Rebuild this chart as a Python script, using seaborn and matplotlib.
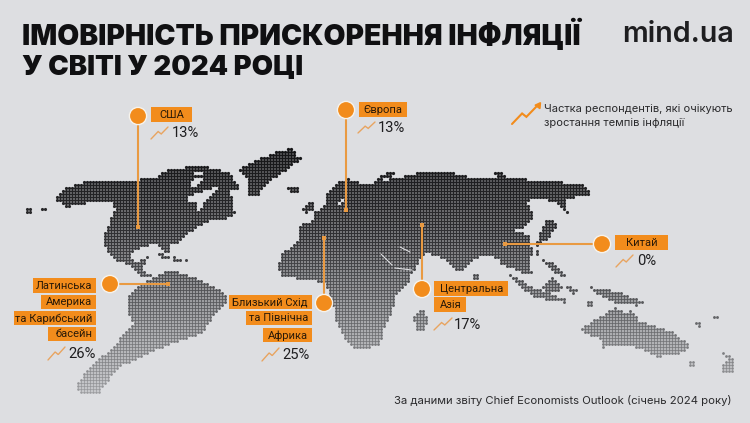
import numpy as np
import pandas as pd
import seaborn as sns
import matplotlib
matplotlib.use("Agg")
import matplotlib.pyplot as plt
from matplotlib.colors import LinearSegmentedColormap
from matplotlib.patches import Rectangle, Circle
from matplotlib.path import Path

# ---- chart content ----
title_lines = ["ІМОВІРНІСТЬ ПРИСКОРЕННЯ ІНФЛЯЦІЇ", "У СВІТІ У 2024 РОЦІ"]
brand = "mind.ua"
legend_lines = ["Частка респондентів, які очікують", "зростання темпів інфляції"]
source = "За даними звіту Chief Economists Outlook (січень 2024 року)"
regions = ["США", "Європа", "Китай", "Центральна Азія", "Близький Схід та Північна Африка",
           "Латинська Америка та Карибський басейн"]
values = [13, 13, 0, 17, 25, 26]

# ---- map outlines ----
north_america = [(55,199),(65,190),(67,187),(93,180),(123,182),(157,177),(167,170),(187,167),(200,165),(227,172),
    (233,178),(239,188),(230,192),(233,203),(235,213),(230,218),(207,222),(197,227),(177,243),(172,243),(168,253),
    (163,250),(155,243),(135,250),(130,258),(138,262),(148,257),(145,263),(143,270),(153,277),(143,277),(128,265),
    (115,260),(105,247),(103,237),(115,210),(112,202),(87,203),(67,207)]
greenland = [(238,170),(253,162),(277,152),(293,148),(297,158),(303,158),(283,173),(267,183),(257,197),(248,195),(248,180)]
south_america = [(143,283),(155,277),(167,270),(183,273),(200,280),(228,295),(227,303),(213,317),(203,333),(173,343),
    (150,353),(120,367),(107,383),(100,393),(80,395),(76,387),(87,370),(113,347),(133,323),(127,310),(130,293),(137,288)]
eurasia_africa = [(277,267),(283,253),(298,242),(300,225),(315,220),(313,212),(318,212),(328,203),(325,197),(337,183),
    (347,179),(370,185),(378,181),(398,178),(418,173),(448,172),(472,178),(498,178),(508,178),(558,182),(582,185),
    (595,194),(582,195),(565,200),(568,213),(555,203),(542,198),(525,202),(533,212),(532,220),(525,228),(513,230),
    (522,232),(532,237),(530,243),(533,252),(530,262),(532,275),(522,273),(510,268),(502,265),(497,258),(482,255),
    (472,262),(468,267),(458,273),(443,258),(425,253),(421,258),(416,268),(412,273),(408,285),(396,295),(393,310),
    (385,327),(380,345),(367,349),(350,347),(335,320),(333,303),(325,283),(310,280),(282,277)]
islands = [
    [(25,209),(33,209),(33,213),(25,213)], [(40,209),(48,206),(48,210),(40,213)],
    [(287,188),(298,188),(298,193),(290,194)], [(302,208),(308,203),(315,202),(314,212),(304,213)],
    [(378,180),(382,175),(395,171),(396,175),(385,178),(381,184)], [(493,172),(503,173),(508,178),(498,178)],
    [(155,252),(163,253),(170,258),(162,258)], [(172,257),(182,258),(182,262),(173,262)], [(184,258),(188,258),(188,263),(184,263)],
    [(536,247),(540,232),(548,218),(556,223),(557,228),(551,234),(548,240),(541,242)],
    [(535,249),(539,249),(539,255),(535,255)],
    [(413,317),(423,309),(428,317),(425,330),(417,330)],
    [(472,273),(478,273),(479,280),(473,280)],
    [(508,273),(532,287),(565,299),(565,303),(535,298),(515,283)],
    [(542,287),(552,278),(562,287),(560,293),(548,292)],
    [(543,260),(552,263),(568,277),(563,278),(548,268)],
    [(567,287),(578,288),(575,295),(570,293)],
    [(586,301),(592,301),(592,306),(586,306)],
    [(590,287),(615,291),(645,302),(638,306),(615,303),(597,294)],
    [(582,327),(605,315),(615,307),(625,313),(632,310),(638,320),(672,332),(690,345),(682,353),(658,357),(635,347),
     (615,345),(603,348),(602,340),(583,332)],
    [(687,361),(695,362),(695,366),(689,366)],
    [(694,322),(701,323),(701,327),(695,326)], [(713,315),(718,315),(718,319),(713,319)],
    [(717,350),(733,358),(734,372),(723,374),(723,365),(730,360)],
]
holes = [
    [(187,197),(197,193),(222,185),(213,193),(203,205),(198,210),(197,203),(188,202)],
    [(190,180),(203,178),(200,185),(192,187)], [(195,171),(203,172),(200,175),(195,174)],
    [(338,205),(345,195),(344,202)],
]
slits = [[(381,254),(392,265)], [(400,247),(410,252)], [(395,268),(412,270)]]

BG = "#DDDEE1"
ORANGE = "#F28C1C"
LINE = "#E99A42"
INK = "#1E1E20"
FAM = ["Inter", "DejaVu Sans"]

sns.set_theme(style="white")
plt.rcParams["font.family"] = FAM
fig = plt.figure(figsize=(7.5, 4.23), dpi=100, facecolor=BG)
ax = fig.add_axes([0, 0, 1, 1], facecolor=BG)

# halftone dots: sample a regular 3 px screen inside the land outlines
gx, gy = np.meshgrid(np.arange(15.5, 745, 3.0), np.arange(140.5, 400, 3.0))
pts = np.column_stack([gx.ravel(), gy.ravel()])
land = np.zeros(len(pts), bool)
for poly in [north_america, greenland, south_america, eurasia_africa] + islands:
    land |= Path(poly).contains_points(pts)
for poly in holes:
    land &= ~Path(poly).contains_points(pts)
dots = pd.DataFrame(pts[land], columns=["x", "y"])
cmap = LinearSegmentedColormap.from_list("fade", ["#141416", "#2f2f32", "#5f6063", "#9c9da0"])
sns.scatterplot(data=dots, x="x", y="y", hue="y", palette=cmap, hue_norm=(150, 395),
                size="y", sizes=(5.6, 3.6), size_norm=(150, 395),
                marker="o", linewidth=0, legend=False, ax=ax, zorder=2)
for s in slits:
    ax.plot(*zip(*s), color=BG, lw=0.8, zorder=3)

ax.set_xlim(0, 750)
ax.set_ylim(423, 0)
ax.axis("off")

# texts of the header and footer
ax.text(22, 35, title_lines[0], fontsize=20.3, fontweight=900, color="#101012", va="center")
ax.text(22, 68, title_lines[1], fontsize=19.8, fontweight=900, color="#101012", va="center")
ax.text(622, 35, brand, fontsize=20.6, fontweight="semibold", color=INK, va="center")
ax.text(544, 109, legend_lines[0], fontsize=8.0, color="#2a2a2c", va="center")
ax.text(544, 123, legend_lines[1], fontsize=8.0, color="#2a2a2c", va="center")
ax.text(394, 401, source, fontsize=8.15, color="#2a2a2c", va="center")


def trend(x0, y0, x1, y1, lw=1.0, color="#E8A460"):
    w, h = x1 - x0, y1 - y0
    ax.plot([x0, x0 + .42 * w, x0 + .6 * w, x1],
            [y0, y0 + .62 * h, y0 + .42 * h, y1], color=color, lw=lw, zorder=6,
            solid_joinstyle="miter")


# legend icon
trend(512, 124, 536, 107, lw=1.5, color=ORANGE)
ax.plot([538], [105], marker=(3, 0, -35), ms=5, color=ORANGE, zorder=6)

# callouts: one row per region
labels = [
    ["США"], ["Європа"], ["Китай"], ["Центральна", "Азія"],
    ["Близький Схід", "та Північна", "Африка"],
    ["Латинська", "Америка", "та Карибський", "басейн"],
]
boxes = [
    [(151, 107, 192, 122)], [(359, 102, 407, 117)], [(615, 235, 668, 250)],
    [(434, 281, 508, 296), (434, 297, 466, 312)],
    [(229, 295, 312, 309), (246, 311, 312, 325), (263, 328, 312, 342)],
    [(33, 278, 96, 293), (41, 295, 96, 309), (14, 311, 96, 325), (48, 327, 96, 341)],
]
aligns = ["center", "center", "center", "left", "right", "right"]
dots_xy = [(138, 116), (346, 110), (602, 244), (422, 289), (324, 303), (110, 284)]
ends = [(138, 227), (346, 210), (505, 244), (422, 225), (324, 238), (168, 284)]
val_xy = [(172, 133), (378, 128), (637, 261), (454, 325), (282, 355), (68, 354)]
icons = [(151, 139, 168, 127), (358, 133, 375, 122), (616, 267, 633, 255),
         (434, 330, 452, 318), (262, 361, 279, 348), (48, 360, 65, 347)]

for i, (region, v) in enumerate(zip(regions, values)):
    cx, cy = dots_xy[i]
    ex, ey = ends[i]
    ax.plot([cx, ex], [cy, ey], color=LINE, lw=1.5, zorder=4, solid_capstyle="butt")
    ax.plot([ex], [ey], marker="s", ms=2.6, color=LINE, mew=0, zorder=4)
    ax.add_patch(Circle((cx, cy), 8.6, fc=ORANGE, ec="#F7F3EC", lw=1.0, zorder=5))
    for line, (x0, y0, x1, y1) in zip(labels[i], boxes[i]):
        ax.add_patch(Rectangle((x0, y0), x1 - x0, y1 - y0, fc=ORANGE, ec="none", zorder=5))
        if aligns[i] == "center":
            tx, ha = (x0 + x1) / 2, "center"
        elif aligns[i] == "left":
            tx, ha = x0 + 6, "left"
        else:
            tx, ha = x1 - 4, "right"
        ax.text(tx, (y0 + y1) / 2 + 0.3, line, fontsize=8.0, family=["Roboto", "DejaVu Sans"],
                color="#2a1a08", ha=ha, va="center", zorder=6)
    ax.text(val_xy[i][0], val_xy[i][1], f"{v}%", fontsize=10.6, family=["Roboto", "DejaVu Sans"],
            color=INK, va="center", zorder=6)
    trend(*icons[i])

fig.savefig("out.png", dpi=100, facecolor=BG)
